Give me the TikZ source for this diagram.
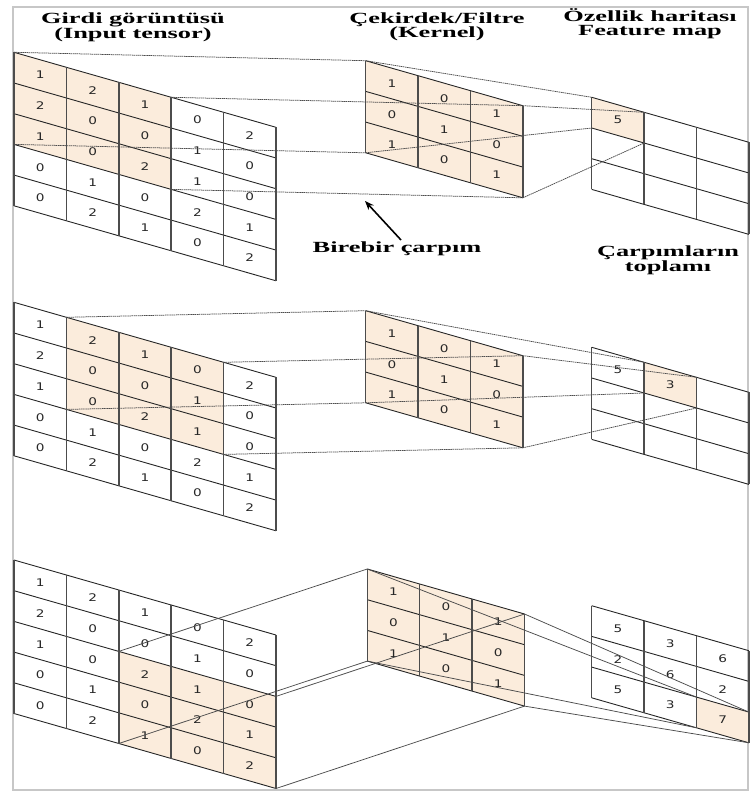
\documentclass[tikz,border=0pt]{standalone}
\usepackage{fontspec}
\setmainfont{Liberation Serif}
\newfontfamily\digitfont{DejaVu Sans}
\usetikzlibrary{arrows.meta}
\definecolor{peach}{RGB}{251,236,220}
\newcommand\hstretch[1]{\scalebox{1.7}[1]{#1}}
\tikzset{
  cellfill/.style={fill=peach},
  skewline/.style={draw=black!85, line width=0.9pt},
  vertline/.style={draw=black!70, line width=1.5pt},
  num/.style={font=\digitfont\fontsize{10.5}{11}\selectfont, text=black!85, inner sep=0pt},
  conn/.style={draw=black!70, line width=0.75pt, dash pattern=on 1.5pt off 0.6pt},
  connsolid/.style={draw=black!70, line width=0.75pt},
  headtxt/.style={font=\bfseries\fontsize{15.5}{14}\selectfont, align=center, inner sep=0pt},
  framebox/.style={draw=black!22, line width=1.5pt},
  pointer/.style={-{Stealth[length=9pt,width=7pt]}, line width=1.6pt},
}
% #1 name, #2 x, #3 y, #4 cols, #5 rows, #6 highlighted cells, #7 values
\newcommand\drawgrid[7]{%
 \begin{scope}[shift={(#2pt,-#3pt)}, x={(52.4pt,-15pt)}, y={(0pt,-30.7pt)}]
  \foreach \c/\r in #6 { \fill[cellfill] (\c,\r) -- ++(1,0) -- ++(0,1) -- ++(-1,0) -- cycle; }
  \foreach \r in {0,...,#5} { \draw[skewline] (0,\r) -- (#4,\r); }
  \foreach \c in {0,...,#4} { \draw[vertline] (\c,0) -- (\c,#5); }
  \foreach \c/\r/\v in #7 { \node[num] (#1-\c-\r) at (\c+0.5,\r+0.5) {\scalebox{1.3}[1]{\v}}; }
  \foreach \c in {0,...,#4} { \foreach \r in {0,...,#5} { \coordinate (#1-v\c-\r) at (\c,\r); } }
 \end{scope}}
\def\inval{0/0/1,1/0/2,2/0/1,3/0/0,4/0/2,
0/1/2,1/1/0,2/1/0,3/1/1,4/1/0,
0/2/1,1/2/0,2/2/2,3/2/1,4/2/0,
0/3/0,1/3/1,2/3/0,3/3/2,4/3/1,
0/4/0,1/4/2,2/4/1,3/4/0,4/4/2}
\def\kval{0/0/1,1/0/0,2/0/1,0/1/0,1/1/1,2/1/0,0/2/1,1/2/0,2/2/1}
\def\kall{0/0,1/0,2/0,0/1,1/1,2/1,0/2,1/2,2/2}
\def\hlA{0/0,1/0,2/0,0/1,1/1,2/1,0/2,1/2,2/2}
\def\hlB{1/0,2/0,3/0,1/1,2/1,3/1,1/2,2/2,3/2}
\def\hlC{2/2,3/2,4/2,2/3,3/3,4/3,2/4,3/4,4/4}
\def\fvalA{0/0/5}
\def\fvalB{0/0/5,1/0/3}
\def\fvalC{0/0/5,1/0/3,2/0/6,0/1/2,1/1/6,2/1/2,0/2/5,1/2/3,2/2/7}
\def\fhA{0/0}
\def\fhB{1/0}
\def\fhC{2/2}
\begin{document}
\begin{tikzpicture}[x=1pt,y=-1pt]
\useasboundingbox (0,0) rectangle (750,794);
\draw[framebox] (13,7) rectangle (748,790);
% panel 1
\drawgrid{p1i}{14}{52.3}{5}{5}{\hlA}{\inval}
\drawgrid{p1k}{365.7}{60.7}{3}{3}{\kall}{\kval}
\drawgrid{p1f}{591.7}{97.3}{3}{3}{\fhA}{\fvalA}
% panel 2
\drawgrid{p2i}{14}{302.3}{5}{5}{\hlB}{\inval}
\drawgrid{p2k}{365.7}{310.7}{3}{3}{\kall}{\kval}
\drawgrid{p2f}{591.7}{347.3}{3}{3}{\fhB}{\fvalB}
% panel 3
\drawgrid{p3i}{14}{560}{5}{5}{\hlC}{\inval}
\drawgrid{p3k}{367.3}{569}{3}{3}{\kall}{\kval}
\drawgrid{p3f}{591.7}{605.7}{3}{3}{\fhC}{\fvalC}
% connectors panel 1
\draw[conn] (p1i-v0-0) -- (p1k-v0-0);
\draw[conn] (p1i-v3-0) -- (p1k-v3-0);
\draw[conn] (p1i-v0-3) -- (p1k-v0-3);
\draw[conn] (p1i-v3-3) -- (p1k-v3-3);
\draw[conn] (p1k-v0-0) -- (p1f-v0-0);
\draw[conn] (p1k-v3-0) -- (p1f-v1-0);
\draw[conn] (p1k-v0-3) -- (p1f-v0-1);
\draw[conn] (p1k-v3-3) -- (p1f-v1-1);
% connectors panel 2
\draw[conn] (p2i-v1-0) -- (p2k-v0-0);
\draw[conn] (p2i-v4-0) -- (p2k-v3-0);
\draw[conn] (p2i-v1-3) -- (p2k-v0-3);
\draw[conn] (p2i-v4-3) -- (p2k-v3-3);
\draw[conn] (p2k-v0-0) -- (p2f-v1-0);
\draw[conn] (p2k-v3-0) -- (p2f-v2-0);
\draw[conn] (p2k-v0-3) -- (p2f-v1-1);
\draw[conn] (p2k-v3-3) -- (p2f-v2-1);
% connectors panel 3
\draw[connsolid] (p3i-v2-2) -- (p3k-v0-0);
\draw[connsolid] (p3i-v5-2) -- (p3k-v3-0);
\draw[connsolid] (p3i-v2-5) -- (p3k-v0-3);
\draw[connsolid] (p3i-v5-5) -- (p3k-v3-3);
\draw[connsolid] (p3k-v0-0) -- (p3f-v2-2);
\draw[connsolid] (p3k-v3-0) -- (p3f-v3-2);
\draw[connsolid] (p3k-v0-3) -- (p3f-v2-3);
\draw[connsolid] (p3k-v3-3) -- (p3f-v3-3);
% labels
\node[headtxt] (hin) at (133,27) {\hstretch{Girdi görüntüsü}\\\hstretch{(Input tensor)}};
\node[headtxt] (hk) at (437,27) {\hstretch{Çekirdek/Filtre}\\\hstretch{(Kernel)}};
\node[headtxt] (hf) at (650,24) {\hstretch{Özellik haritası}\\\hstretch{Feature map}};
\node[headtxt] (mul) at (397,249) {\hstretch{Birebir çarpım}};
\node[headtxt] (sum) at (668,260) {\hstretch{Çarpımların}\\\hstretch{toplamı}};
\coordinate (tail) at (401,240);
\coordinate (tip) at (365,201);
\draw[pointer] (tail) -- (tip);
\end{tikzpicture}
\end{document}
